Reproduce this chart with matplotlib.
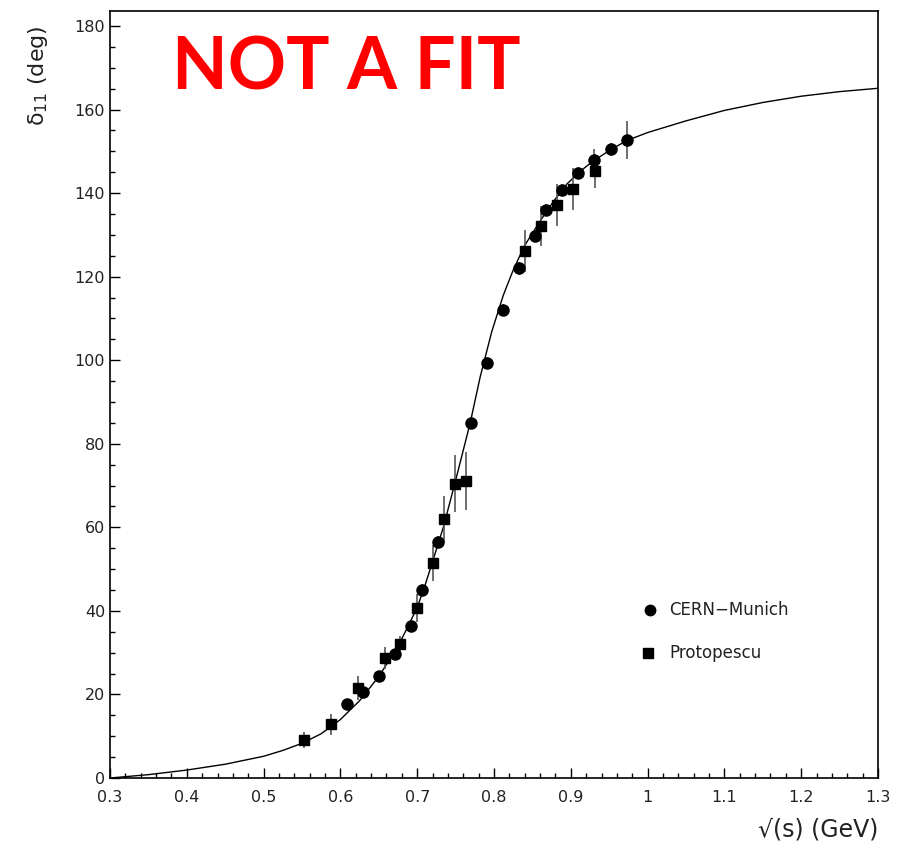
import matplotlib.pyplot as plt
from matplotlib.ticker import MultipleLocator

# P-wave pi-pi phase shift delta_11 vs sqrt(s)
curve_x = [0.30, 0.35, 0.40, 0.45, 0.50, 0.525, 0.55, 0.575, 0.60, 0.625,
           0.65, 0.675, 0.685, 0.70, 0.71, 0.72, 0.734, 0.749, 0.769, 0.782,
           0.797, 0.812, 0.825, 0.840, 0.860, 0.877, 0.895, 0.912, 0.930, 0.952,
           0.973, 1.00, 1.05, 1.10, 1.15, 1.20, 1.25, 1.30]
curve_y = [0.0, 0.8, 1.9, 3.3, 5.2, 6.6, 8.3, 10.6, 14.0, 18.5,
           24.3, 31.5, 35.2, 40.8, 46.0, 51.8, 60.0, 70.5, 85.0, 96.0,
           106.8, 115.5, 121.6, 127.5, 133.3, 137.9, 142.2, 145.2, 147.8, 150.4,
           152.6, 154.5, 157.3, 159.8, 161.7, 163.2, 164.3, 165.1]

cern_x = [0.609, 0.629, 0.650, 0.671, 0.692, 0.706, 0.727, 0.770, 0.791, 0.812,
          0.833, 0.853, 0.868, 0.889, 0.909, 0.930, 0.952, 0.973]
cern_y = [17.7, 20.6, 24.4, 29.7, 36.4, 45.0, 56.5, 85.0, 99.3, 112.0,
          122.0, 129.7, 136.0, 140.7, 144.8, 147.9, 150.5, 152.7]
cern_err = [1.0, 1.0, 1.0, 1.0, 1.5, 1.5, 1.5, 1.5, 1.5, 1.5,
            1.5, 1.5, 1.5, 1.5, 1.5, 2.6, 1.5, 4.5]

prot_x = [0.553, 0.588, 0.623, 0.658, 0.678, 0.700, 0.721, 0.735, 0.749, 0.763,
          0.840, 0.861, 0.882, 0.903, 0.932]
prot_y = [9.1, 12.9, 21.5, 28.7, 32.1, 40.7, 51.5, 62.0, 70.4, 71.1,
          126.1, 132.1, 137.1, 141.0, 145.3]
prot_err = [2.0, 2.5, 2.8, 2.7, 2.0, 3.4, 4.3, 5.5, 6.8, 7.0,
            5.0, 4.8, 5.0, 5.0, 4.0]

fig = plt.figure(figsize=(9.05, 8.5), dpi=100)
ax = fig.add_axes([110 / 905, 1 - 778 / 850, 768 / 905, 767 / 850])

ax.plot(curve_x, curve_y, color="black", lw=1.0)
ax.errorbar(cern_x, cern_y, yerr=cern_err, fmt="o", color="black", ms=8,
            ecolor="#555555", elinewidth=1.2, capsize=0)
ax.errorbar(prot_x, prot_y, yerr=prot_err, fmt="s", color="black", ms=7.8,
            ecolor="#555555", elinewidth=1.2, capsize=0)

# legend drawn by hand, PAW style
ax.plot([1.003], [40.2], "o", color="black", ms=7.5)
ax.plot([1.000], [29.9], "s", color="black", ms=7)
ax.text(1.028, 40.2, "CERN\u2212Munich", fontsize=12, va="center",
        family="DejaVu Sans", color="#222222")
ax.text(1.028, 29.9, "Protopescu", fontsize=12, va="center",
        family="DejaVu Sans", color="#222222")

ax.text(0.381, 169.6, "NOT A FIT", color="#ff0000", fontsize=52,
        fontweight="bold", family="Lato", va="center")

ax.set_xlim(0.3, 1.3)
ax.set_ylim(0, 183.6)
ax.xaxis.set_major_locator(MultipleLocator(0.1))
ax.xaxis.set_minor_locator(MultipleLocator(0.02))
ax.yaxis.set_major_locator(MultipleLocator(20))
ax.yaxis.set_minor_locator(MultipleLocator(5))
ax.xaxis.set_major_formatter(plt.FuncFormatter(lambda v, p: f"{v:g}"))
ax.tick_params(which="both", direction="in", top=False, right=False,
               labelsize=11.5, labelcolor="#222222", width=1)
ax.tick_params(which="major", length=7)
ax.tick_params(which="minor", length=3.5)
ax.tick_params(axis="x", pad=9)
for s in ax.spines.values():
    s.set_linewidth(1.2)

fig.text(38 / 905, 1 - 25 / 850, "\u03b4$_{11}$ (deg)", rotation=90,
         ha="center", va="top", fontsize=16, color="#222222")
fig.text(878 / 905, 1 - 830 / 850, "\u221a(s) (GeV)", ha="right",
         va="center", fontsize=17, color="#222222")

fig.savefig("out.png", dpi=100)
